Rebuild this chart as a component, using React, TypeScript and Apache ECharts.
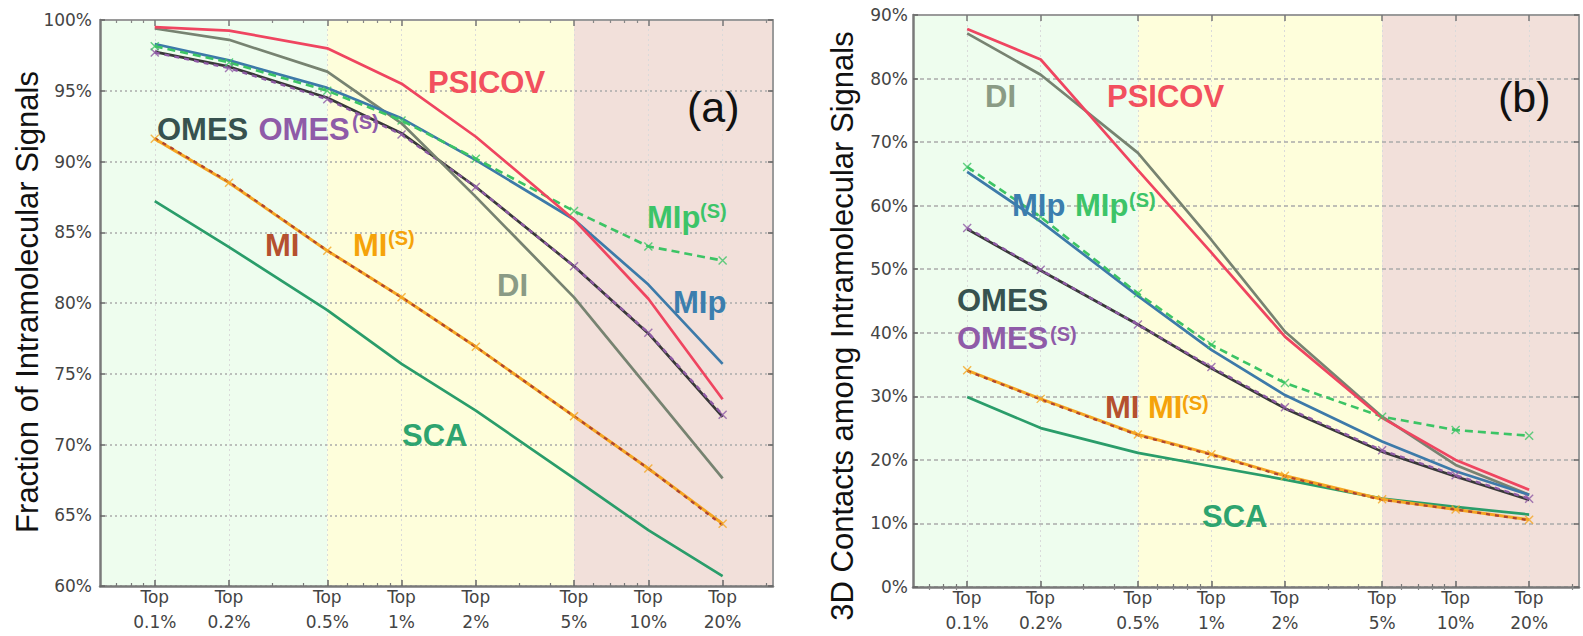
import React, { useEffect, useRef } from "react";
import * as echarts from "echarts";

// ---------- data ----------
const TOPS = [0.1, 0.2, 0.5, 1, 2, 5, 10, 20]; // "Top x%" categories (log scale)
const MINOR_TOPS = [0.07, 0.08, 0.09, 0.3, 0.4, 0.6, 0.7, 0.8, 0.9, 3, 4, 6, 7, 8, 9, 30];
const X_RANGE = [0.06, 32];
const ZONES = [
  [0.06, 0.5],
  [0.5, 5],
  [5, 32],
];

// Panel (a): Fraction of Intramolecular Signals (%)
const psicovA = [99.5, 99.25, 98.0, 95.5, 91.75, 85.9, 80.3, 73.2];
const diA = [99.4, 98.6, 96.35, 92.7, 87.5, 80.4, 74.0, 67.6];
const mipA = [98.3, 97.15, 95.2, 93.05, 90.1, 85.9, 81.3, 75.7];
const mipSA = [98.15, 97.0, 95.0, 92.9, 90.2, 86.5, 84.0, 83.0];
const omesA = [97.75, 96.7, 94.5, 92.0, 88.2, 82.6, 77.85, 71.95];
const omesSA = [97.7, 96.6, 94.4, 91.9, 88.2, 82.6, 77.9, 72.1];
const miA = [91.65, 88.55, 83.7, 80.4, 76.9, 72.0, 68.3, 64.3];
const miSA = [91.6, 88.5, 83.7, 80.4, 76.9, 72.0, 68.3, 64.4];
const scaA = [87.2, 83.95, 79.5, 75.7, 72.4, 67.6, 63.95, 60.7];

// Panel (b): 3D Contacts among Intramolecular Signals (%)
const psicovB = [87.8, 83.0, 65.6, 52.6, 39.4, 26.6, 20.0, 15.3];
const diB = [87.1, 80.6, 68.3, 54.6, 40.2, 26.8, 19.2, 14.5];
const mipB = [65.3, 57.5, 45.8, 37.3, 30.2, 22.9, 18.2, 14.5];
const mipSB = [66.1, 58.2, 46.2, 38.1, 32.1, 26.8, 24.7, 23.8];
const omesB = [56.3, 49.8, 41.3, 34.4, 28.1, 21.3, 17.4, 13.7];
const omesSB = [56.5, 49.9, 41.3, 34.6, 28.3, 21.5, 17.6, 13.9];
const miB = [34.0, 29.5, 23.9, 20.8, 17.4, 13.7, 12.2, 10.5];
const miSB = [34.1, 29.6, 24.0, 20.9, 17.5, 13.8, 12.2, 10.6];
const scaB = [29.9, 25.0, 21.1, 19.0, 16.9, 13.9, 12.6, 11.4];

const Y_A = { min: 60, max: 100, interval: 5 };
const Y_B = { min: 0, max: 90, interval: 10 };

// ---------- style ----------
const ZONE_COLORS = ["#eefdee", "#fefedb", "#f2e0da"];
const C = {
  psicov: "#ef4560",
  di: "#778371",
  mip: "#3d7aa9",
  mipS: "#3cc465",
  omes: "#383838",
  omesS: "#8e5aa5",
  mi: "#b0452f",
  miS: "#f5a623",
  sca: "#2a9d6a",
};
const L = {
  psicov: "#f2505e",
  di: "#8a9b85",
  mip: "#3b7eae",
  mipS: "#3cc468",
  omes: "#37524f",
  omesS: "#8f5ba8",
  mi: "#b5502f",
  miS: "#f5a30a",
  sca: "#2ea46f",
};
const SANS = "'Liberation Sans', Arial, sans-serif";
const TICK_FONT = "'DejaVu Sans', sans-serif";
const X_SYMBOL = "path://M0 0L10 10M10 0L0 10";

const lg = (v: number) => Math.log10(v);

function fmtTop(v: number) {
  let best = TOPS[0];
  for (const t of TOPS) if (Math.abs(lg(t) - v) < Math.abs(lg(best) - v)) best = t;
  return "Top\n" + best + "%";
}

function xAxes(gridIndex: number) {
  const base: any = {
    type: "value",
    gridIndex,
    min: lg(X_RANGE[0]),
    max: lg(X_RANGE[1]),
    z: 1.5,
    splitLine: { show: false },
  };
  const majors = TOPS.map(lg);
  const minors = MINOR_TOPS.map(lg);
  return [
    {
      ...base,
      position: "bottom",
      axisLine: { show: true, onZero: false, lineStyle: { color: "#7a7a7a", width: 2.5 } },
      axisTick: { show: true, inside: true, length: 6, customValues: majors, lineStyle: { color: "#666", width: 1.5 } },
      axisLabel: {
        show: true,
        customValues: majors,
        formatter: fmtTop,
        color: "#444",
        fontSize: 17,
        fontFamily: TICK_FONT,
        lineHeight: 25,
        margin: -2,
      },
    },
    {
      ...base,
      position: "top",
      axisLine: { show: true, onZero: false, lineStyle: { color: "#9a9a9a", width: 2 } },
      axisTick: { show: true, inside: true, length: 6, customValues: majors, lineStyle: { color: "#777", width: 1.5 } },
      axisLabel: { show: false },
    },
    {
      ...base,
      position: "bottom",
      axisLine: { show: false },
      axisTick: { show: true, inside: true, length: 3, customValues: minors, lineStyle: { color: "#777", width: 1.2 } },
      axisLabel: { show: false },
    },
    {
      ...base,
      position: "top",
      axisLine: { show: false },
      axisTick: { show: true, inside: true, length: 3, customValues: minors, lineStyle: { color: "#888", width: 1.2 } },
      axisLabel: { show: false },
    },
  ];
}

function yAxes(gridIndex: number, r: { min: number; max: number; interval: number }, margin: number, dash: number[]) {
  const base: any = { type: "value", gridIndex, min: r.min, max: r.max, interval: r.interval, z: 1.5 };
  return [
    {
      ...base,
      position: "left",
      axisLine: { show: true, onZero: false, lineStyle: { color: "#7a7a7a", width: 2.5 } },
      axisTick: { show: true, inside: true, length: 5, lineStyle: { color: "#666", width: 1.5 } },
      axisLabel: { formatter: "{value}%", color: "#444", fontSize: 17, fontFamily: TICK_FONT, margin },
      splitLine: { show: true, lineStyle: { color: "#ababab", width: 1.5, type: dash } },
    },
    {
      ...base,
      position: "right",
      axisLine: { show: true, onZero: false, lineStyle: { color: "#9a9a9a", width: 2 } },
      axisTick: { show: true, inside: true, length: 5, lineStyle: { color: "#666", width: 1.5 } },
      axisLabel: { show: false },
      splitLine: { show: false },
    },
  ];
}

function bgSeries(xi: number, yi: number) {
  return {
    type: "line",
    xAxisIndex: xi,
    yAxisIndex: yi,
    data: [],
    silent: true,
    markArea: {
      silent: true,
      data: ZONES.map(([a, b], i) => [
        { xAxis: lg(a), itemStyle: { color: ZONE_COLORS[i] } },
        { xAxis: lg(b) },
      ]),
    },
    markLine: {
      silent: true,
      z: 1.2,
      symbol: ["none", "none"],
      label: { show: false },
      lineStyle: { color: "#dadada", width: 1, type: [2, 3] },
      data: TOPS.map((t) => ({ xAxis: lg(t) })),
    },
  };
}

function line(vals: number[], color: string, xi: number, yi: number, o: any = {}) {
  return {
    type: "line",
    xAxisIndex: xi,
    yAxisIndex: yi,
    data: TOPS.map((t, i) => [lg(t), vals[i]]),
    lineStyle: { color, width: o.width || 2.7, type: o.dash || "solid" },
    itemStyle: { color, borderColor: color, borderWidth: 1.4, opacity: 0.8 },
    symbol: o.marker ? X_SYMBOL : "none",
    showSymbol: !!o.marker,
    symbolSize: 8,
    silent: true,
    z: 2,
  };
}

function panelSeries(xi: number, yi: number, d: any) {
  return [
    bgSeries(xi, yi),
    line(d.sca, C.sca, xi, yi),
    line(d.miS, C.miS, xi, yi, { marker: true, width: 3 }),
    line(d.mi, C.mi, xi, yi, { dash: [4, 5], width: 2.3 }),
    line(d.omes, C.omes, xi, yi),
    line(d.omesS, C.omesS, xi, yi, { marker: true, dash: [5, 5], width: 2.3 }),
    line(d.di, C.di, xi, yi),
    line(d.mip, C.mip, xi, yi),
    line(d.mipS, C.mipS, xi, yi, { marker: true, dash: [8, 5], width: 2.6 }),
    line(d.psicov, C.psicov, xi, yi),
  ];
}

// annotation texts: [text, x, y, color, size, bold]
const LABELS: [string, number, number, string, number, boolean][] = [
  ["PSICOV", 428, 82.5, L.psicov, 31, true],
  ["OMES", 157, 129, L.omes, 31, true],
  ["OMES", 258.5, 129, L.omesS, 31, true],
  ["(S)", 352, 122, L.omesS, 20, true],
  ["MI", 265, 245, L.mi, 31, true],
  ["MI", 353, 245, L.miS, 31, true],
  ["(S)", 388, 238, L.miS, 20, true],
  ["DI", 497, 285, L.di, 31, true],
  ["MIp", 647, 217.5, L.mipS, 31, true],
  ["(S)", 700, 211, L.mipS, 20, true],
  ["MIp", 673, 302, L.mip, 31, true],
  ["SCA", 402, 435, L.sca, 31, true],
  ["(a)", 687, 107, "#111", 43, false],
  ["DI", 985, 96, L.di, 31, true],
  ["PSICOV", 1107, 96, L.psicov, 31, true],
  ["(b)", 1498, 97, "#111", 43, false],
  ["MIp", 1012, 205, L.mip, 31, true],
  ["MIp", 1075, 205, L.mipS, 31, true],
  ["(S)", 1129, 200, L.mipS, 20, true],
  ["OMES", 957, 300, L.omes, 31, true],
  ["OMES", 957, 338, L.omesS, 31, true],
  ["(S)", 1050, 334, L.omesS, 20, true],
  ["MI", 1105, 407, L.mi, 31, true],
  ["MI", 1148, 407, L.miS, 31, true],
  ["(S)", 1182, 403, L.miS, 20, true],
  ["SCA", 1202, 516, L.sca, 31, true],
];

export default function App() {
  const ref = useRef<HTMLDivElement>(null);
  useEffect(() => {
    if (!ref.current) return;
    const chart = echarts.init(ref.current, null, { renderer: "svg" });
    const option: any = {
      animation: false,
      backgroundColor: "#ffffff",
      grid: [
        { left: 100, top: 20, width: 673, height: 566, outerBoundsMode: "none" },
        { left: 913, top: 15, width: 666, height: 572, outerBoundsMode: "none" },
      ],
      xAxis: [...xAxes(0), ...xAxes(1)],
      yAxis: [...yAxes(0, Y_A, 8, [2, 3]), ...yAxes(1, Y_B, 5, [4, 3])],
      series: [
        ...panelSeries(0, 0, {
          psicov: psicovA, di: diA, mip: mipA, mipS: mipSA, omes: omesA, omesS: omesSA, mi: miA, miS: miSA, sca: scaA,
        }),
        ...panelSeries(4, 2, {
          psicov: psicovB, di: diB, mip: mipB, mipS: mipSB, omes: omesB, omesS: omesSB, mi: miB, miS: miSB, sca: scaB,
        }),
      ],
      graphic: {
        elements: [
          {
            type: "text",
            x: 27,
            y: 302,
            rotation: Math.PI / 2,
            z: 10,
            style: {
              text: "Fraction of Intramolecular Signals",
              fill: "#111",
              fontSize: 31,
              fontFamily: SANS,
              align: "center",
              verticalAlign: "middle",
            },
          },
          {
            type: "text",
            x: 842,
            y: 326,
            rotation: Math.PI / 2,
            z: 10,
            style: {
              text: "3D Contacts among Intramolecular Signals",
              fill: "#111",
              fontSize: 31,
              fontFamily: SANS,
              align: "center",
              verticalAlign: "middle",
            },
          },
          ...LABELS.map(([text, x, y, color, size, bold]) => ({
            type: "text",
            x,
            y,
            z: 10,
            style: {
              text,
              fill: color,
              fontSize: size,
              fontWeight: bold ? "bold" : "normal",
              fontFamily: SANS,
              align: "left",
              verticalAlign: "middle",
            },
          })),
        ],
      },
    };
    chart.setOption(option);
    return () => chart.dispose();
  }, []);
  return <div ref={ref} style={{ position: "fixed", left: 0, top: 0, width: 1583, height: 636 }} />;
}
